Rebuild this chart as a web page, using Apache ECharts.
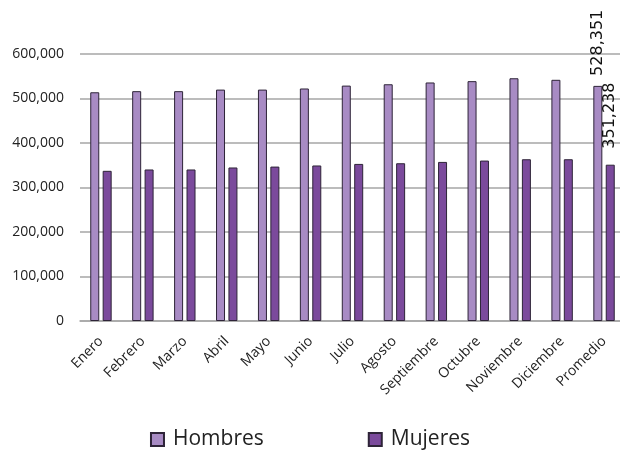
<!DOCTYPE html>
<html>
<head>
<meta charset="utf-8">
<script src="https://cdn.jsdelivr.net/npm/echarts@6/dist/echarts.min.js"></script>
<style>
  html, body { margin: 0; padding: 0; background: #ffffff; }
  #chart { width: 620px; height: 451px; }
</style>
</head>
<body>
<div id="chart"></div>
<script>
// Monthly counts by sex, plus the yearly average
const categories = ['Enero', 'Febrero', 'Marzo', 'Abril', 'Mayo', 'Junio', 'Julio',
  'Agosto', 'Septiembre', 'Octubre', 'Noviembre', 'Diciembre', 'Promedio'];
const hombres = [514000, 516500, 516500, 520000, 520000, 522500, 529000,
  532000, 536000, 539000, 545500, 542000, 528351];
const mujeres = [337500, 340500, 340500, 345000, 347000, 349500, 353000,
  354500, 357500, 360500, 363500, 363500, 351238];
const yTicks = [0, 100000, 200000, 300000, 400000, 500000, 600000];

const fmt = v => v.toLocaleString('en-US');
const FONT = '"Open Sans", "Noto Sans", sans-serif';

// Only the average bar carries a value label
function withLabel(values, gap) {
  const last = values.length - 1;
  return values.map((v, i) => i === last ? {
    value: v,
    label: {
      show: true, position: 'top', rotate: 90, align: 'left', verticalAlign: 'middle',
      distance: gap, formatter: p => fmt(p.value), color: '#111', fontSize: 16,
      fontFamily: '"DejaVu Sans", sans-serif'
    }
  } : v);
}

const chart = echarts.init(document.getElementById('chart'));
chart.setOption({
  animation: false,
  // the plot runs a little past the right edge of the canvas
  grid: { left: 80, width: 545, top: 54, bottom: 130, containLabel: false, outerBoundsMode: 'none' },
  legend: {
    top: 424, left: 'center', itemGap: 104, itemWidth: 13, itemHeight: 13,
    textStyle: { fontSize: 21, color: '#222', fontFamily: FONT, padding: [0, 0, 0, 4] },
    data: [
      { name: 'Hombres', icon: 'rect' },
      { name: 'Mujeres', icon: 'rect' }
    ]
  },
  xAxis: {
    type: 'category', data: categories,
    axisLine: { lineStyle: { color: '#a6a6a6', width: 1.5 } },
    axisTick: { show: false },
    axisLabel: { rotate: 45, interval: 0, fontSize: 14, color: '#222', fontFamily: FONT, margin: 18 }
  },
  yAxis: {
    type: 'value', min: yTicks[0], max: yTicks[yTicks.length - 1], interval: yTicks[1] - yTicks[0],
    axisLine: { show: false }, axisTick: { show: false },
    splitLine: { lineStyle: { color: '#a6a6a6', width: 1.5 } },
    axisLabel: { formatter: v => fmt(v), fontSize: 14, color: '#222', fontFamily: FONT, margin: 16 }
  },
  series: [
    {
      name: 'Hombres', type: 'bar', data: withLabel(hombres, 10), barWidth: 9, barGap: '38%',
      itemStyle: { color: '#a88bc4', borderColor: '#2e2438', borderWidth: 1 }
    },
    {
      name: 'Mujeres', type: 'bar', data: withLabel(mujeres, 16), barWidth: 9,
      itemStyle: { color: '#7b4a9c', borderColor: '#2e2438', borderWidth: 1 }
    }
  ]
});
</script>
</body>
</html>
